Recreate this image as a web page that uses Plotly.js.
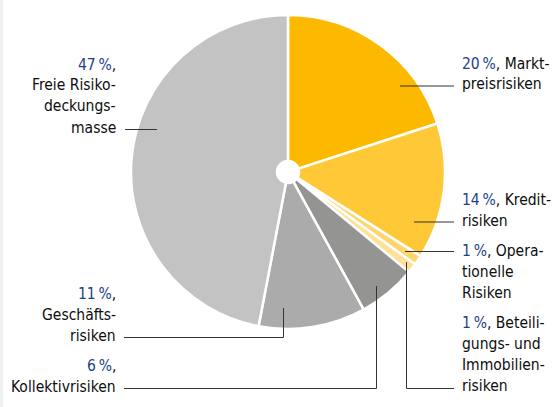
<!DOCTYPE html>
<html>
<head>
<meta charset="utf-8">
<script src="https://cdn.plot.ly/plotly-3.0.1.min.js"></script>
<style>
html,body{margin:0;padding:0;background:#fff;}
#chart{width:554px;height:407px;}
</style>
</head>
<body>
<div id="chart"></div>
<script>
// ---- data ----
const categories = ['Marktpreisrisiken', 'Kreditrisiken', 'Operationelle Risiken',
  'Beteiligungs- und Immobilienrisiken', 'Kollektivrisiken', 'Geschäftsrisiken',
  'Freie Risikodeckungsmasse'];
const values = [20, 14, 1, 1, 6, 11, 47];
// label text broken into lines (first line follows the percentage)
const labelLines = [
  ['Markt-', 'preisrisiken'],
  ['Kredit-', 'risiken'],
  ['Opera-', 'tionelle', 'Risiken'],
  ['Beteili-', 'gungs- und', 'Immobilien-', 'risiken'],
  ['', 'Kollektivrisiken'],
  ['', 'Geschäfts-', 'risiken'],
  ['', 'Freie Risiko-', 'deckungs-', 'masse']
];

// ---- styles / layout (pixels) ----
const W = 554, H = 407;
const colors = ['#FDB900', '#FFC836', '#FFD56C', '#FFE196', '#949492', '#ABABAB', '#C3C3C3'];
const pctColor = '#233E8B';
const txtColor = '#0d0d0d';
const fontFam = 'DejaVu Sans Condensed, DejaVu Sans, sans-serif';
const fs = 15.5;
const lineStep = 21;
// label placement: side, x anchor px, first baseline px
const labelPos = [
  {side: 'r', x: 461, y: 68.5},
  {side: 'r', x: 461, y: 205},
  {side: 'r', x: 461, y: 256},
  {side: 'r', x: 461, y: 328},
  {side: 'l', x: 117, y: 371},
  {side: 'l', x: 117, y: 299},
  {side: 'l', x: 117, y: 69.5}
];
// leader polylines in px
const leaders = [
  [[400, 86], [454, 86]],
  [[414, 222], [454, 222]],
  [[405, 251.5], [454, 251.5]],
  [[406.5, 262], [406.5, 388.5], [454, 388.5]],
  [[376.5, 286], [376.5, 388.5], [124, 388.5]],
  [[283.5, 308], [283.5, 337.5], [124, 337.5]],
  [[157, 129.5], [125, 129.5]]
];
const cx = 288, cy = 172, R = 157;

const px = x => x / W;
const py = y => 1 - y / H;

const annotations = [];
labelLines.forEach((lines, i) => {
  const p = labelPos[i];
  lines.forEach((ln, j) => {
    let t;
    if (j === 0) {
      t = '<span style="color:' + pctColor + '">' + values[i] + '\u2009%</span>,' + (ln ? ' ' + ln : '');
    } else {
      t = ln;
    }
    annotations.push({
      xref: 'paper', yref: 'paper',
      x: px(p.x), y: py(p.y + j * lineStep - 5),
      xanchor: p.side === 'r' ? 'left' : 'right',
      yanchor: 'middle',
      align: p.side === 'r' ? 'left' : 'right',
      showarrow: false,
      text: t,
      borderpad: 0,
      font: {family: fontFam, size: fs, color: txtColor}
    });
  });
});

const shapes = leaders.map(pts => ({
  type: 'path', xref: 'paper', yref: 'paper',
  path: pts.map((q, k) => (k ? 'L' : 'M') + px(q[0]) + ',' + py(q[1])).join(' '),
  line: {color: '#333333', width: 1}
}));
shapes.push({type: 'rect', xref: 'paper', yref: 'paper', x0: 0, x1: px(3), y0: 0, y1: 1,
  fillcolor: '#F0F0F0', line: {width: 0}, layer: 'below'});

const trace = {
  type: 'pie',
  labels: categories,
  values: values,
  sort: false,
  direction: 'clockwise',
  rotation: 0,
  hole: 11 / R,
  textinfo: 'none',
  hoverinfo: 'none',
  marker: {colors: colors, line: {color: '#ffffff', width: 2.5}},
  domain: {x: [px(cx - R), px(cx + R)], y: [py(cy + R), py(cy - R)]},
  showlegend: false
};

Plotly.newPlot('chart', [trace], {
  width: W, height: H,
  margin: {l: 0, r: 0, t: 0, b: 0},
  paper_bgcolor: '#ffffff',
  showlegend: false,
  annotations: annotations,
  shapes: shapes
}, {staticPlot: true, displayModeBar: false});
</script>
</body>
</html>
